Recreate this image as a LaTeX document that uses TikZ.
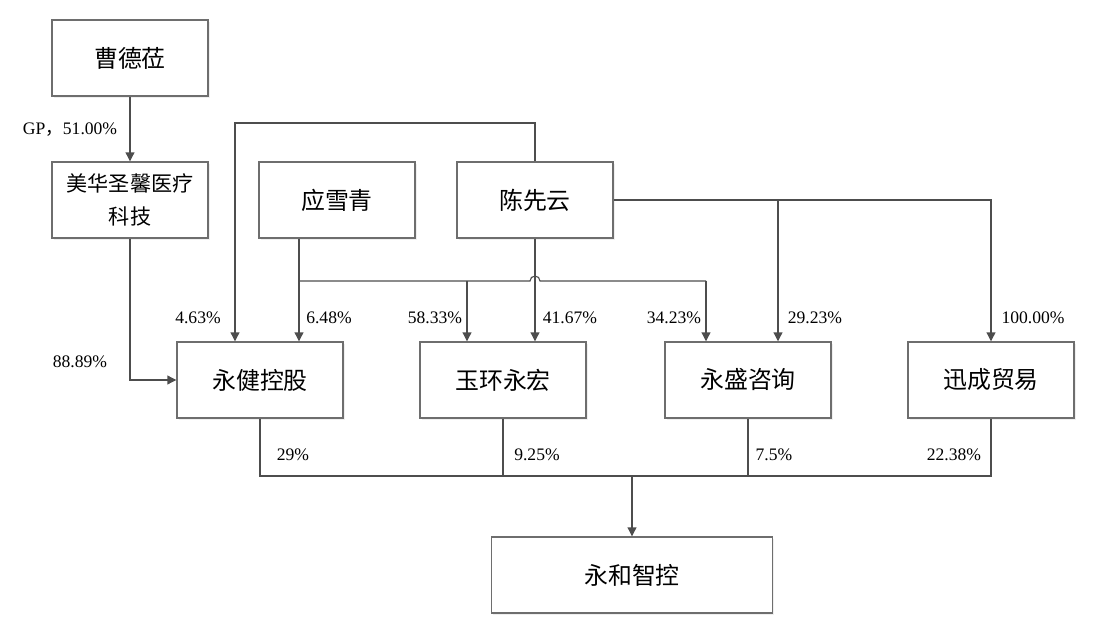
\documentclass[tikz,border=0pt]{standalone}
\usepackage{fontspec}
\setmainfont{Liberation Serif}
\newfontfamily\cjk{Noto Sans CJK SC}
\usetikzlibrary{arrows.meta,shadows}
\definecolor{boxgray}{HTML}{6E6E6E}
\definecolor{linegray}{HTML}{4D4D4D}

\begin{document}
\begin{tikzpicture}[
  x=0.025cm, y=-0.025cm,
  co/.style={draw=boxgray, line width=1pt, fill=white, align=center,
             minimum width=3.9cm, minimum height=1.9cm, inner sep=2pt,
             font=\cjk\fontsize{17}{22}\selectfont,
             drop shadow={shadow xshift=1.2pt, shadow yshift=-1.2pt, fill=black!12}},
  cob/.style={co, minimum width=4.15cm},
  ln/.style={draw=linegray, line width=0.8pt},
  arr/.style={ln, -{Triangle[length=2.2mm, width=2.2mm]}},
  lab/.style={font=\fontsize{12.5}{14}\selectfont, inner sep=0pt},
]
\useasboundingbox (0,0) rectangle (1097,636);

% people and holding
\node[co] (cao)    at (130,58)  {曹德莅};
\node[co, font=\cjk\fontsize{15}{24}\selectfont] (meihua) at (130,200) {美华圣馨医疗\\科技};
\node[co] (ying)   at (337,200) {应雪青};
\node[co] (chen)   at (535,200) {陈先云};

% shareholders
\node[cob] (yjkg) at (260,380) {永健控股};
\node[cob] (yhyh) at (503,380) {玉环永宏};
\node[cob] (yszx) at (748,380) {永盛咨询};
\node[cob] (xcmy) at (991,380) {迅成贸易};
\node[co, minimum width=7.025cm] (yhzk) at (632,575) {永和智控};

% turning points
\coordinate (t1)  at (235,123);
\coordinate (j1)  at (299,281);
\coordinate (j2)  at (467,281);
\coordinate (j3)  at (706,281);
\coordinate (hop) at (530,281);
\coordinate (k1)  at (778,200);
\coordinate (b)   at (632,476);

\draw[arr] (cao) -- (meihua);
\draw[arr] (meihua.south) |- (yjkg.west);
\draw[arr] (chen.north) |- (t1) -- (t1 |- yjkg.north);
\draw[arr] (j1 |- ying.south) -- (j1 |- yjkg.north);
\draw[ln]  (j1) -- (hop) arc[start angle=180, end angle=360, radius=5] -- (j3);
\draw[arr] (j2) -- (j2 |- yhyh.north);
\draw[arr] (j3) -- (j3 |- yszx.north);
\draw[arr] (chen.south) -- (chen.south |- yhyh.north);
\draw[arr] (chen.east) -| (xcmy.north);
\draw[arr] (k1) -- (k1 |- yszx.north);

\draw[ln]  (yjkg.south) |- (xcmy.south |- b) -- (xcmy.south);
\draw[ln]  (yhyh.south) -- (yhyh.south |- b);
\draw[ln]  (yszx.south) -- (yszx.south |- b);
\draw[arr] (b) -- (yhzk.north);

% shares
\node[lab] (l1)  at (70,130)   {GP{\cjk，}51.00\%};
\node[lab] (l2)  at (80,362)   {88.89\%};
\node[lab] (l3)  at (198,318)  {4.63\%};
\node[lab] (l4)  at (329,318)  {6.48\%};
\node[lab] (l5)  at (435,318)  {58.33\%};
\node[lab] (l6)  at (570,318)  {41.67\%};
\node[lab] (l7)  at (674,318)  {34.23\%};
\node[lab] (l8)  at (815,318)  {29.23\%};
\node[lab] (l9)  at (1033,318) {100.00\%};
\node[lab] (l10) at (293,455)  {29\%};
\node[lab] (l11) at (537,455)  {9.25\%};
\node[lab] (l12) at (774,455)  {7.5\%};
\node[lab] (l13) at (954,455)  {22.38\%};
\end{tikzpicture}
\end{document}
